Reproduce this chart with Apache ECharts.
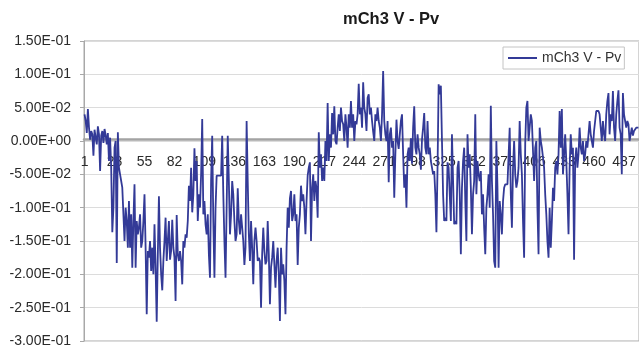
<!DOCTYPE html>
<html>
<head>
<meta charset="utf-8">
<script src="https://cdn.jsdelivr.net/npm/echarts@6/dist/echarts.min.js"></script>
<style>
  html, body { margin: 0; padding: 0; background: #fff; }
  #chart { width: 639px; height: 348px; }
</style>
</head>
<body>
<div id="chart"></div>
<script>
// Series name and samples (one value per sample index, 1..500)
const seriesName = 'mCh3 V - Pv';

const mch3VPv = [
  // 1-20
  0.040, 0.030, 0.012, 0.048, 0.020, 0.002, 0.015, 0.010, -0.022, 0.017, 0.005, -0.005, 0.022, 0.010, -0.045, 0.008, 0.015, -0.003, 0.018, 0.009,
  // 21-40
  -0.005, 0.012, -0.030, 0.005, -0.040, -0.137, -0.100, -0.010, 0.000, -0.183, 0.013, -0.040, -0.050, -0.060, -0.070, -0.110, -0.150, -0.100, -0.120, -0.160,
  // 41-60
  -0.090, -0.160, -0.110, -0.190, -0.120, -0.065, -0.190, -0.120, -0.140, -0.130, -0.110, -0.160, -0.150, -0.120, -0.080, -0.160, -0.260, -0.165, -0.175, -0.150,
  // 61-80
  -0.195, -0.160, -0.200, -0.125, -0.190, -0.271, -0.170, -0.083, -0.160, -0.200, -0.224, -0.180, -0.150, -0.115, -0.180, -0.182, -0.120, -0.178, -0.165, -0.118,
  // 81-100
  -0.160, -0.175, -0.240, -0.111, -0.170, -0.180, -0.165, -0.180, -0.215, -0.150, -0.160, -0.140, -0.145, -0.120, -0.067, -0.090, -0.040, -0.107, -0.080, -0.011,
  // 101-120
  -0.060, -0.030, -0.120, -0.080, -0.100, -0.050, 0.033, -0.110, -0.090, -0.125, -0.140, -0.110, -0.170, -0.205, -0.060, 0.008, -0.120, -0.205, -0.100, -0.052,
  // 121-140
  -0.052, -0.052, -0.052, -0.052, 0.008, -0.080, -0.150, -0.205, -0.100, 0.008, -0.060, -0.140, -0.110, -0.060, -0.080, -0.120, -0.150, -0.140, -0.071, -0.120,
  // 141-160
  -0.140, -0.110, -0.130, -0.150, -0.186, -0.160, 0.030, -0.060, -0.140, -0.180, -0.120, -0.160, -0.215, -0.150, -0.130, -0.150, -0.180, -0.175, -0.180, -0.250,
  // 161-180
  -0.170, -0.130, -0.165, -0.185, -0.180, -0.120, -0.170, -0.245, -0.190, -0.175, -0.150, -0.185, -0.220, -0.180, -0.160, -0.200, -0.270, -0.160, -0.200, -0.185,
  // 181-200
  -0.210, -0.260, -0.160, -0.100, -0.130, -0.086, -0.075, -0.120, -0.110, -0.080, -0.120, -0.110, -0.186, -0.130, -0.110, -0.067, -0.090, -0.080, -0.100, -0.140,
  // 201-220
  -0.090, -0.052, -0.040, -0.032, -0.150, -0.070, -0.050, -0.090, -0.060, -0.071, -0.115, 0.013, -0.040, -0.020, -0.060, -0.040, -0.060, 0.000, -0.030, 0.057,
  // 221-240
  -0.030, 0.010, -0.010, 0.042, 0.010, 0.052, 0.000, -0.005, 0.020, 0.040, 0.015, 0.050, 0.030, 0.025, 0.000, 0.040, 0.020, -0.010, 0.040, 0.020,
  // 241-260
  0.060, 0.020, 0.040, 0.000, 0.030, 0.025, 0.040, 0.086, 0.040, 0.050, 0.020, 0.088, 0.050, 0.040, 0.015, 0.065, 0.070, 0.040, 0.050, 0.030,
  // 261-280
  0.014, 0.000, 0.040, 0.030, 0.050, 0.030, 0.020, 0.000, 0.040, 0.105, 0.030, 0.010, 0.000, 0.030, -0.062, 0.010, 0.020, -0.010, 0.000, -0.085,
  // 281-300
  -0.020, 0.032, 0.000, -0.012, 0.010, 0.030, 0.040, -0.020, -0.070, -0.050, -0.100, -0.020, -0.010, -0.030, 0.004, -0.034, 0.020, 0.052, -0.010, -0.020,
  // 301-320
  0.010, -0.010, -0.020, -0.043, 0.002, 0.020, 0.042, -0.010, -0.020, 0.030, -0.020, -0.010, -0.030, -0.040, -0.050, -0.045, -0.080, -0.137, -0.040, 0.085,
  // 321-340
  0.070, 0.083, 0.000, -0.080, -0.120, -0.115, -0.120, -0.032, -0.040, -0.080, -0.120, 0.010, -0.060, -0.125, -0.120, -0.125, -0.040, -0.030, -0.080, -0.170,
  // 341-360
  -0.070, -0.030, -0.010, -0.090, -0.150, 0.010, -0.040, -0.020, -0.070, -0.140, -0.080, -0.060, 0.040, -0.080, -0.030, -0.050, -0.060, -0.045, -0.110, -0.080,
  // 361-380
  -0.130, -0.170, -0.100, -0.080, -0.050, -0.100, 0.053, -0.060, -0.110, -0.180, -0.190, 0.000, -0.070, -0.190, -0.090, -0.110, -0.140, -0.090, -0.070, -0.065,
  // 381-400
  -0.065, -0.065, -0.065, 0.020, -0.080, -0.130, -0.040, 0.000, -0.050, -0.070, -0.060, -0.040, 0.030, -0.020, -0.050, -0.120, -0.175, -0.003, 0.050, 0.060,
  // 401-420
  0.000, 0.020, 0.040, 0.030, 0.030, -0.060, -0.010, 0.000, -0.100, -0.170, 0.020, 0.000, -0.010, -0.010, -0.040, -0.080, -0.110, -0.150, -0.175, -0.100,
  // 421-440
  -0.160, -0.120, -0.070, -0.090, -0.040, -0.030, -0.050, -0.020, 0.045, -0.010, 0.048, -0.050, -0.020, 0.010, -0.030, -0.080, -0.140, -0.040, 0.010, -0.020,
  // 441-460
  -0.010, -0.178, -0.030, -0.010, -0.040, -0.020, 0.020, -0.010, -0.020, 0.000, -0.030, -0.020, 0.000, -0.010, 0.010, 0.030, 0.010, 0.000, -0.010, 0.015,
  // 461-480
  0.030, 0.045, 0.045, 0.045, 0.040, 0.020, 0.000, 0.030, 0.010, 0.000, 0.040, 0.060, 0.072, 0.010, 0.040, 0.030, 0.075, 0.020, 0.000, 0.040,
  // 481-500
  0.060, 0.076, 0.020, 0.010, -0.050, 0.072, 0.040, 0.030, 0.020, 0.030, 0.025, 0.000, 0.010, 0.020, 0.008, 0.015, 0.015, 0.020, 0.020, 0.020
];

// Sample indices used as category labels
const categories = mch3VPv.map((_, i) => String(i + 1));

// Value axis range and step
const yMin = -0.3;
const yMax = 0.15;
const yStep = 0.05;
// Show one category label every 27 samples (1, 28, 55, ...)
const xLabelEvery = 27;

// Plot box (pixels)
const gridTop = 41;
const gridBottom = 5;
const gridHeight = 348 - gridTop - gridBottom;
// The category axis crosses the value axis at zero: shift it up from the bottom edge
const zeroOffset = -gridHeight * (0 - yMin) / (yMax - yMin);

// Scientific notation with a two-digit exponent, e.g. -2.50E-01
function sci(v) {
  if (Math.abs(v) < 1e-12) return '0.00E+00';
  const parts = v.toExponential(2).split('e');
  const sign = parts[1][0];
  const digits = parts[1].slice(1).padStart(2, '0');
  return parts[0] + 'E' + sign + digits;
}

const font = '"Liberation Sans", Arial, sans-serif';
const chart = echarts.init(document.getElementById('chart'), null, { renderer: 'canvas' });

chart.setOption({
  animation: false,
  backgroundColor: '#ffffff',
  title: {
    text: seriesName,
    left: 338,
    top: 6,
    textStyle: { fontFamily: font, fontSize: 16.5, fontWeight: 'bold', color: '#1a1a1a' }
  },
  legend: {
    data: [seriesName],
    left: 503,
    top: 47,
    icon: 'rect',
    itemWidth: 29,
    itemHeight: 2,
    padding: [4, 3, 4, 5],
    borderColor: '#c4c4c4',
    borderWidth: 1,
    backgroundColor: '#ffffff',
    textStyle: { fontFamily: font, fontSize: 14, color: '#333' }
  },
  grid: {
    left: 84,
    top: gridTop,
    right: -2,
    bottom: gridBottom,
    show: true,
    borderColor: '#a8a8a8',
    borderWidth: 1,
    backgroundColor: 'transparent'
  },
  xAxis: {
    type: 'category',
    data: categories,
    boundaryGap: true,
    position: 'bottom',
    offset: zeroOffset,
    axisLine: { onZero: false, lineStyle: { color: '#a3a3a3', width: 2.5 } },
    axisTick: { show: false },
    axisLabel: {
      interval: xLabelEvery - 1,
      margin: 15,
      fontFamily: font,
      fontSize: 14,
      color: '#2a2a2a'
    },
    splitLine: { show: false }
  },
  yAxis: {
    type: 'value',
    min: yMin,
    max: yMax,
    interval: yStep,
    axisLine: { show: true, lineStyle: { color: '#a8a8a8', width: 1 } },
    axisTick: { show: true, length: 4, lineStyle: { color: '#a8a8a8' } },
    axisLabel: {
      formatter: sci,
      margin: 13,
      fontFamily: font,
      fontSize: 14,
      color: '#2a2a2a'
    },
    splitLine: { show: true, lineStyle: { color: '#dcdcdc', width: 1 } }
  },
  series: [{
    name: seriesName,
    type: 'line',
    data: mch3VPv,
    symbol: 'none',
    showSymbol: false,
    lineStyle: { color: '#333a97', width: 1.8 },
    itemStyle: { color: '#333a97' }
  }]
});
</script>
</body>
</html>
